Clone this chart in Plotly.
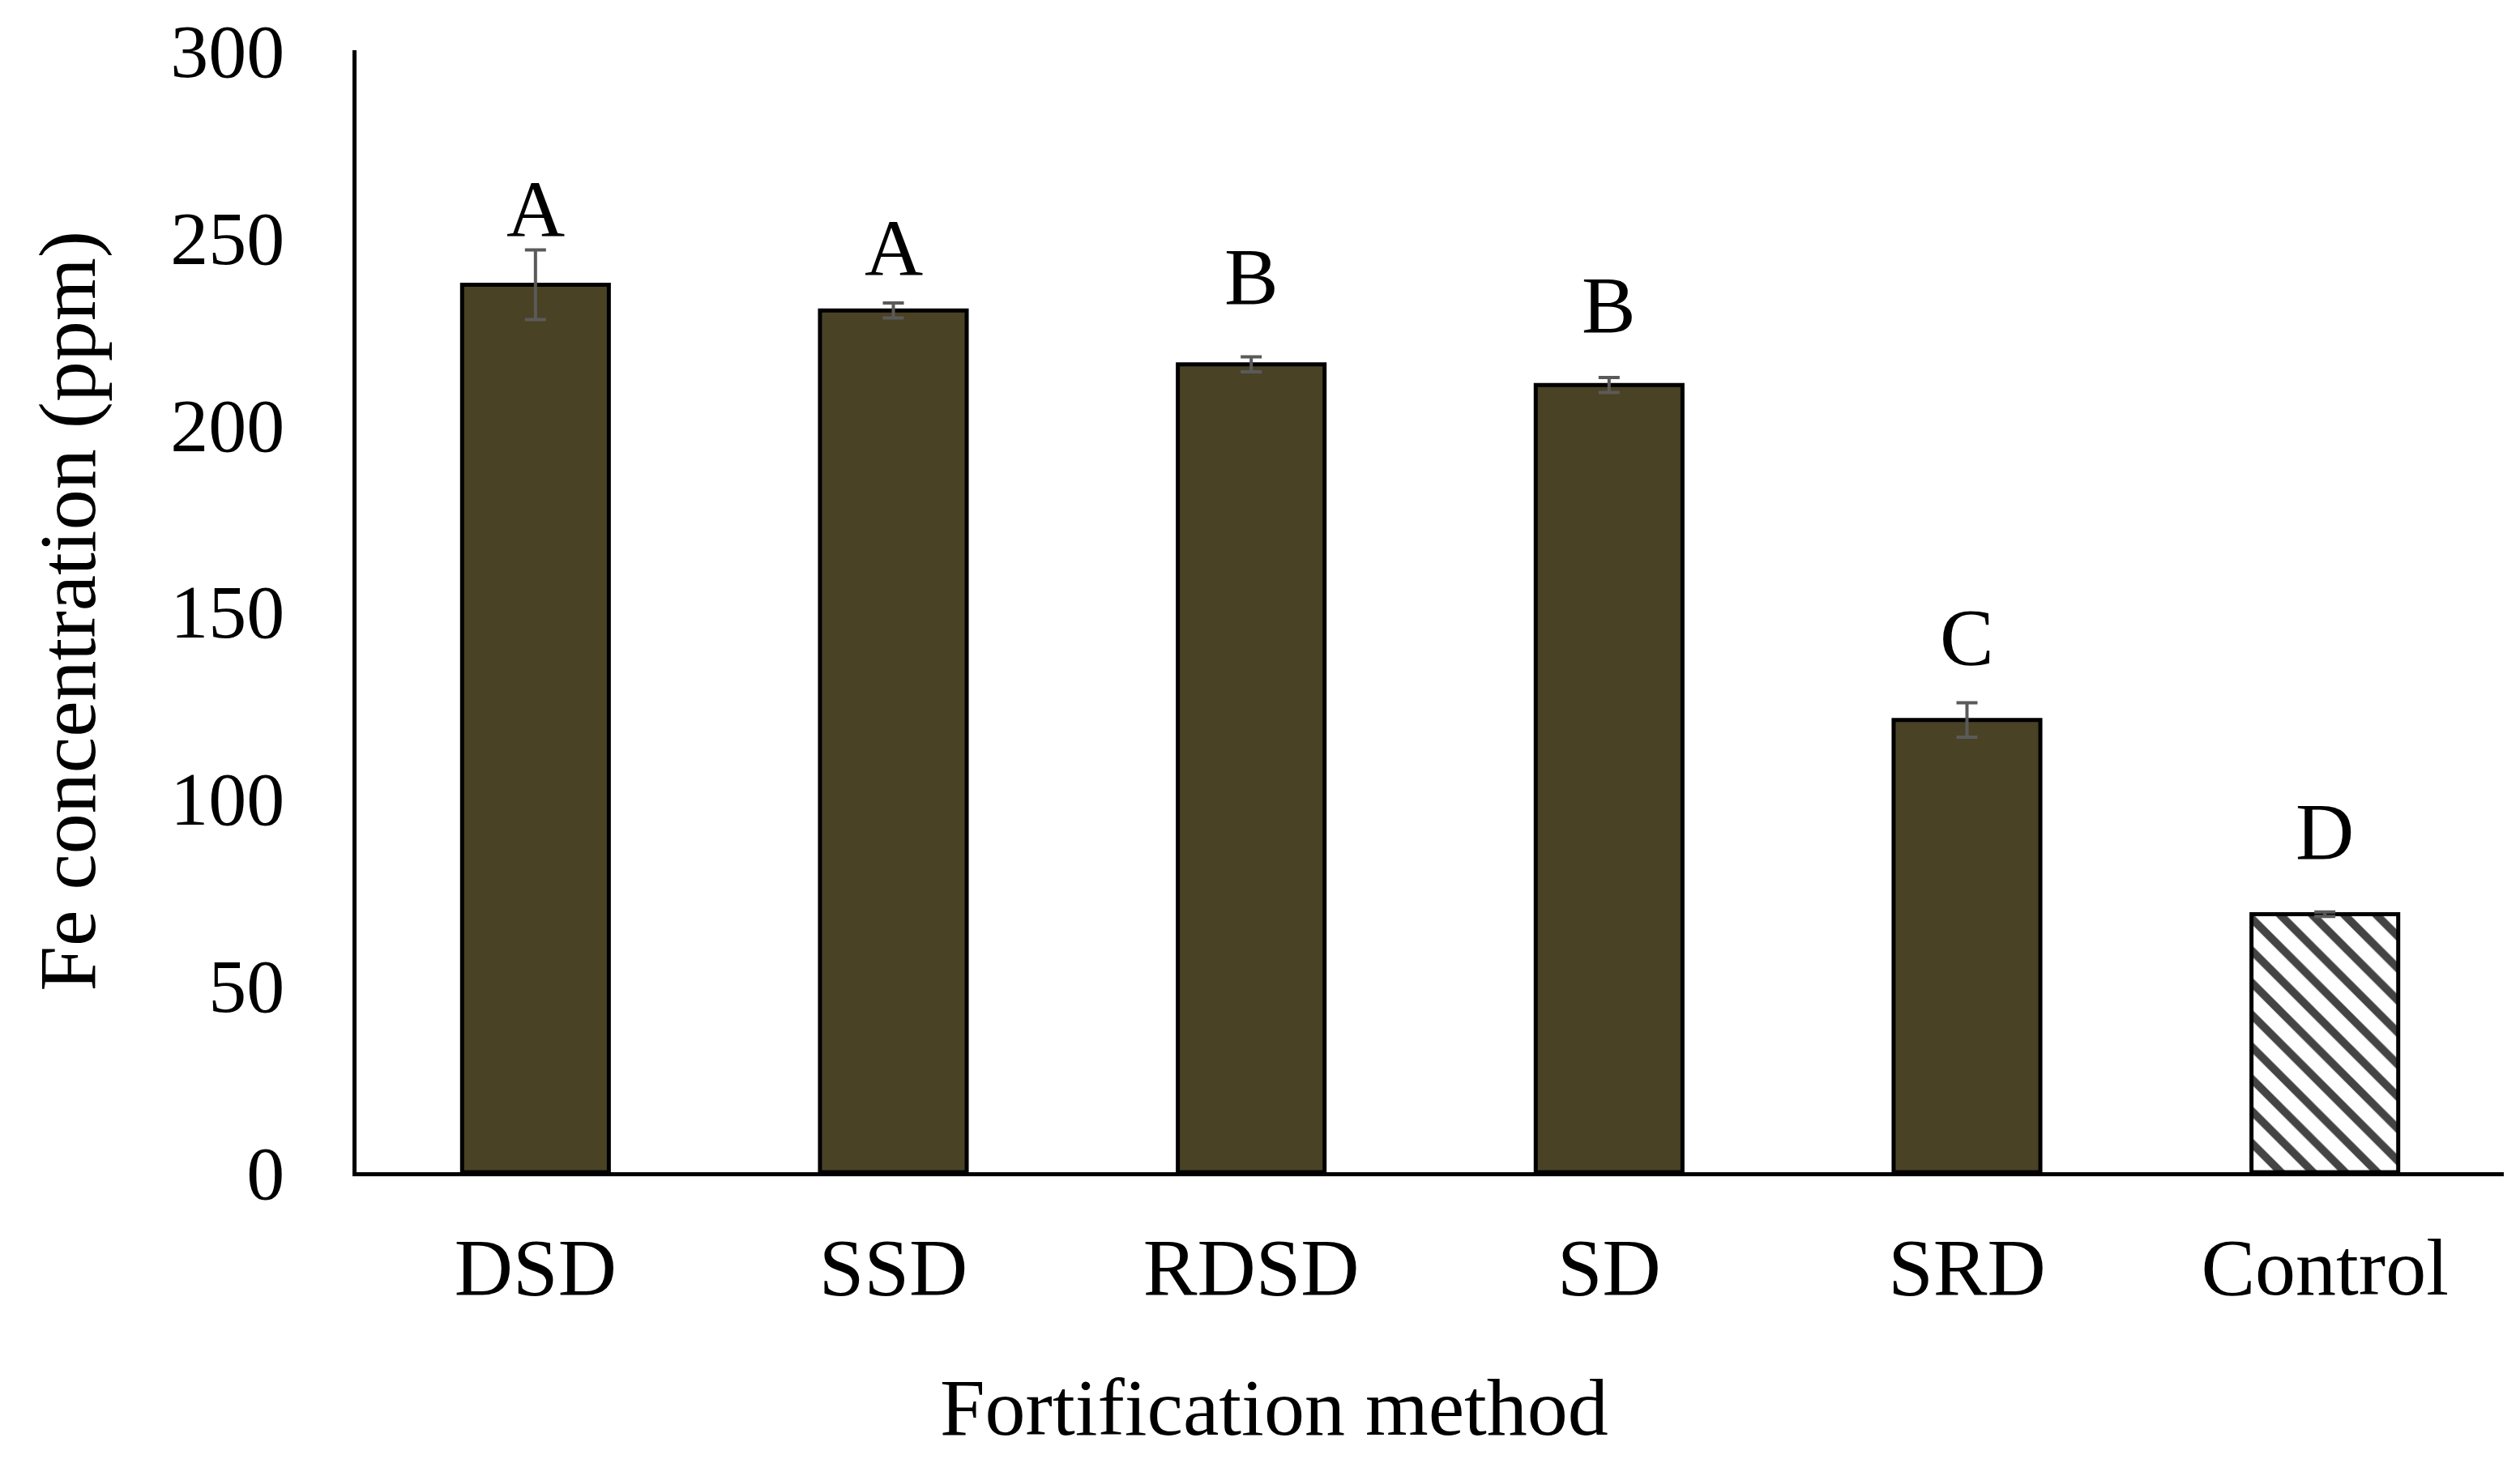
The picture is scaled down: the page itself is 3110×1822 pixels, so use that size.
import plotly.graph_objects as go

categories = ["DSD", "SSD", "RDSD", "SD", "SRD", "Control"]
fe_ppm = [237.3, 230.4, 216.0, 210.5, 120.9, 69.0]
fe_err = [9.3, 2.0, 2.0, 2.0, 4.6, 0.6]
letters = ["A", "A", "B", "B", "C", "D"]
letter_y = [257.5, 247.0, 239.5, 231.8, 143.0, 91.0]
y_ticks = [0, 50, 100, 150, 200, 250, 300]

BAR = "#4a4225"
FONT = "Liberation Serif, Times New Roman, serif"

fills = [BAR] * 5 + ["white"]
shapes = [""] * 5 + ["\\"]

fig = go.Figure()
fig.add_trace(go.Bar(
    x=categories, y=fe_ppm,
    width=0.41,
    marker=dict(
        color=fills,
        line=dict(color="black", width=5),
        pattern=dict(shape=shapes, fgcolor=BAR, bgcolor="white", fgopacity=1,
                     size=28, solidity=0.35),
    ),
    error_y=dict(type="data", array=fe_err, visible=True, color="#5a5a5a", thickness=4, width=13),
    showlegend=False,
))

for c, t, yy in zip(categories, letters, letter_y):
    fig.add_annotation(x=c, y=yy, text=t, showarrow=False, yanchor="middle",
                       font=dict(family=FONT, size=100, color="black"))

fig.add_annotation(xref="paper", yref="paper", x=0.4275, y=0, yshift=-348, yanchor="bottom",
                   text="Fortification method", showarrow=False,
                   font=dict(family=FONT, size=100, color="black"))
fig.add_annotation(xref="paper", yref="paper", x=-0.1347, y=0.5, textangle=-90,
                   xanchor="center", yanchor="middle",
                   text="Fe concentration (ppm)", showarrow=False,
                   font=dict(family=FONT, size=100, color="black"))

fig.update_layout(
    width=3110, height=1822,
    margin=dict(l=432, r=28, t=54, b=383, autoexpand=False),
    plot_bgcolor="white", paper_bgcolor="white",
    font=dict(family=FONT, color="black"),
)
fig.update_xaxes(
    range=[-0.5, 5.5], showline=True, linecolor="black", linewidth=5,
    ticks="", showgrid=False, tickfont=dict(family=FONT, size=100, color="black"),
    ticklabelstandoff=26, automargin=False,
)
fig.update_yaxes(
    range=[0, 300], tickvals=y_ticks, showline=True, linecolor="black", linewidth=5,
    ticks="", showgrid=False, zeroline=False, tickfont=dict(family=FONT, size=94, color="black"),
    ticklabelstandoff=65, automargin=False,
)

fig.write_html("out.html")
